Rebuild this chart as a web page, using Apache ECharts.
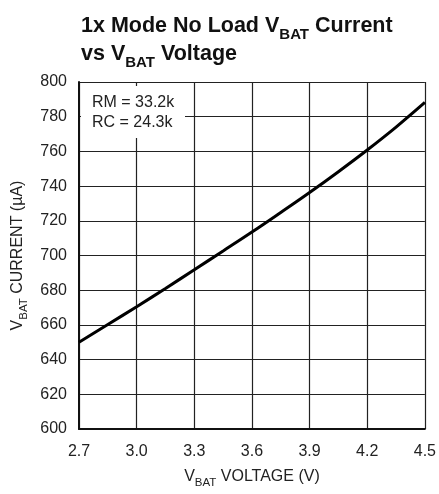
<!DOCTYPE html>
<html><head><meta charset="utf-8">
<script src="https://cdn.jsdelivr.net/npm/echarts@6/dist/echarts.min.js"></script>
<style>html,body{margin:0;padding:0;background:#fff}#c{width:439px;height:494px}</style>
</head><body><div id="c"></div>
<script>
const voltage = [2.7, 2.85, 3.0, 3.15, 3.3, 3.45, 3.6, 3.75, 3.9, 4.05, 4.2, 4.35, 4.5];
const current = [650, 660.2, 670.5, 681, 691.8, 702.6, 713.5, 724.8, 736.3, 748.3, 760.8, 774, 788.2];
const xTicks = [2.7, 4.5, 0.3];
const yTicks = [600, 800, 20];
const noteLines = ['RM = 33.2k', 'RC = 24.3k'];

const FONT = '"Liberation Sans Narrow","Liberation Sans",Arial,sans-serif';
const chart = echarts.init(document.getElementById('c'), null, {renderer:'canvas'});
chart.setOption({
  animation:false,
  backgroundColor:'#fff',
  title:{
    left:76, top:4,
    text:'{t|1x Mode No Load V}{s|BAT}{t| Current}\n{t|vs V}{s|BAT}{t| Voltage}',
    textStyle:{
      rich:{
        t:{fontFamily:FONT, fontWeight:'bold', fontSize:21.5, color:'#111', lineHeight:28, verticalAlign:'bottom'},
        s:{fontFamily:FONT, fontWeight:'bold', fontSize:15, color:'#111', lineHeight:28, verticalAlign:'bottom', padding:[0,0,-5,0]}
      }
    }
  },
  grid:{left:79, right:8, top:82, bottom:61},
  xAxis:{
    type:'value', min:xTicks[0], max:xTicks[1], interval:xTicks[2],
    axisLine:{show:true, lineStyle:{color:'#111', width:2}},
    axisTick:{show:false},
    splitLine:{show:true, lineStyle:{color:'#222', width:1.2}},
    axisLabel:{fontFamily:FONT, fontSize:16, color:'#222', margin:15, formatter:v=>v.toFixed(1), showMaxLabel:true, showMinLabel:true},
    name:'{n|V}{s|BAT}{n| VOLTAGE (V)}', nameLocation:'middle', nameGap:37,
    nameTextStyle:{rich:{
      n:{fontFamily:FONT, fontSize:16, color:'#222', verticalAlign:'bottom', lineHeight:19},
      s:{fontFamily:FONT, fontSize:11.5, color:'#222', verticalAlign:'bottom', lineHeight:19, padding:[0,0,-4,0]}
    }}
  },
  yAxis:{
    type:'value', min:yTicks[0], max:yTicks[1], interval:yTicks[2],
    axisLine:{show:true, lineStyle:{color:'#111', width:2}},
    axisTick:{show:false},
    splitLine:{show:true, lineStyle:{color:'#222', width:1.2}},
    axisLabel:{fontFamily:FONT, fontSize:16, color:'#222', margin:12},
    name:'{n|V}{s|BAT}{n| CURRENT (µA)}', nameLocation:'middle', nameGap:49,
    nameTextStyle:{rich:{
      n:{fontFamily:FONT, fontSize:16, color:'#222', verticalAlign:'bottom', lineHeight:19},
      s:{fontFamily:FONT, fontSize:11.5, color:'#222', verticalAlign:'bottom', lineHeight:19, padding:[0,0,-4,0]}
    }}
  },
  series:[{
    type:'line', smooth:0.4, symbol:'none',
    data: voltage.map((v,i)=>[v, current[i]]),
    lineStyle:{color:'#000', width:3}
  }],
  graphic:[
    {type:'rect', left:81, top:86, shape:{width:104, height:52}, style:{fill:'#fff'}, z:10},
    {type:'text', left:92, top:93, z:11, style:{text:noteLines.join('\n'), font:'16px '+FONT, fill:'#222', lineHeight:20}}
  ]
});
</script></body></html>
